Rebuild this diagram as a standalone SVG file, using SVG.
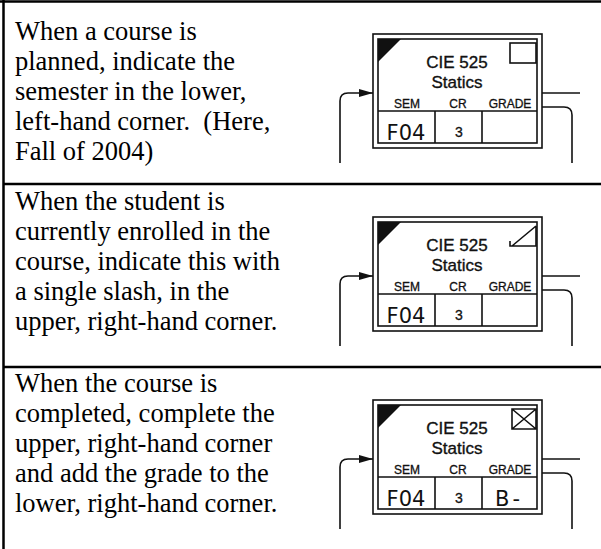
<svg xmlns="http://www.w3.org/2000/svg" xmlns:xlink="http://www.w3.org/1999/xlink" width="601" height="549" viewBox="0 0 601 549">
<style>
.desc{font-family:"Liberation Serif","Times New Roman",serif;font-size:26.5px;fill:#000}
.title{font-family:"Liberation Sans",Arial,sans-serif;font-size:17px;fill:#111;stroke:#111;stroke-width:0.35;text-anchor:middle}
.lbl{font-family:"Liberation Sans",Arial,sans-serif;font-size:12px;fill:#111;stroke:#111;stroke-width:0.3;text-anchor:middle}
.hand{font-family:"DejaVu Sans",sans-serif;font-size:21px;fill:#111;text-anchor:middle}
.cr{font-family:"Liberation Sans",Arial,sans-serif;font-size:14px;fill:#111;stroke:#111;stroke-width:0.3;text-anchor:middle}
.ln{fill:none;stroke:#111;stroke-width:1.6}
.grid{fill:none;stroke:#000;stroke-width:2.5}
.conn{fill:none;stroke:#111;stroke-width:1.6}
</style>
<defs>
<marker id="arr" viewBox="0 0 14 8" refX="14" refY="4" markerWidth="14" markerHeight="8" markerUnits="userSpaceOnUse" orient="auto">
<path d="M0,0 L14,4 L0,8 Z" fill="#111"/>
</marker>
<g id="card">
<rect x="373" y="34" width="169" height="114" class="ln" stroke-width="2"/>
<rect x="378" y="39" width="159" height="104" class="ln"/>
<path d="M378,39 H401 L378,62 Z" fill="#111"/>
<text x="457" y="68" class="title">CIE 525</text>
<text x="457" y="88" class="title">Statics</text>
<text x="407" y="108" class="lbl">SEM</text>
<text x="458" y="108" class="lbl">CR</text>
<text x="510" y="108" class="lbl">GRADE</text>
<path d="M378,111 H537 M435,111 V143 M482,111 V143" class="ln"/>
<text x="406" y="140" class="hand">F04</text>
<text x="459" y="137" class="cr">3</text>
</g>
<g id="wires">
<path d="M340,163 V101 Q340,93 348,93 H373" class="conn" marker-end="url(#arr)"/>
<path d="M542,93 H580" class="conn"/>
<path d="M542,107 H564 Q572,107 572,115 V163" class="conn"/>
</g>
</defs>
<rect width="601" height="549" fill="#fff"/>
<g id="table">
<path d="M0,1.5 H601 M3.5,0 V549 M3,184 H601 M3,367 H601" class="grid"/>
</g>
<g id="connectors">
<use xlink:href="#wires"/>
<use xlink:href="#wires" transform="translate(0,183)"/>
<use xlink:href="#wires" transform="translate(0,366)"/>
</g>
<g id="row-planned">
<text class="desc" xml:space="preserve"><tspan x="15" y="40">When a course is</tspan><tspan x="15" y="70">planned, indicate the</tspan><tspan x="15" y="100">semester in the lower,</tspan><tspan x="15" y="130">left-hand corner.  (Here,</tspan><tspan x="15" y="160">Fall of 2004)</tspan></text>
<use xlink:href="#card"/>
<rect x="510" y="43" width="26" height="20" class="ln"/>
</g>
<g id="row-enrolled">
<text class="desc"><tspan x="15" y="210">When the student is</tspan><tspan x="15" y="240">currently enrolled in the</tspan><tspan x="15" y="270">course, indicate this with</tspan><tspan x="15" y="300">a single slash, in the</tspan><tspan x="15" y="330">upper, right-hand corner.</tspan></text>
<use xlink:href="#card" transform="translate(0,183)"/>
<path d="M536,226 V246 H510 V241 M512,246 L536,226" class="ln" stroke-width="2"/>
</g>
<g id="row-completed">
<text class="desc"><tspan x="15" y="392">When the course is</tspan><tspan x="15" y="422">completed, complete the</tspan><tspan x="15" y="452">upper, right-hand corner</tspan><tspan x="15" y="482">and add the grade to the</tspan><tspan x="15" y="512">lower, right-hand corner.</tspan></text>
<use xlink:href="#card" transform="translate(0,366)"/>
<path d="M512,409 H536 V429 H512 Z M512,409 L536,429 M536,409 L512,429" class="ln" stroke-width="2.2"/>
<text x="509" y="506" class="hand" letter-spacing="3">B-</text>
</g>
</svg>
